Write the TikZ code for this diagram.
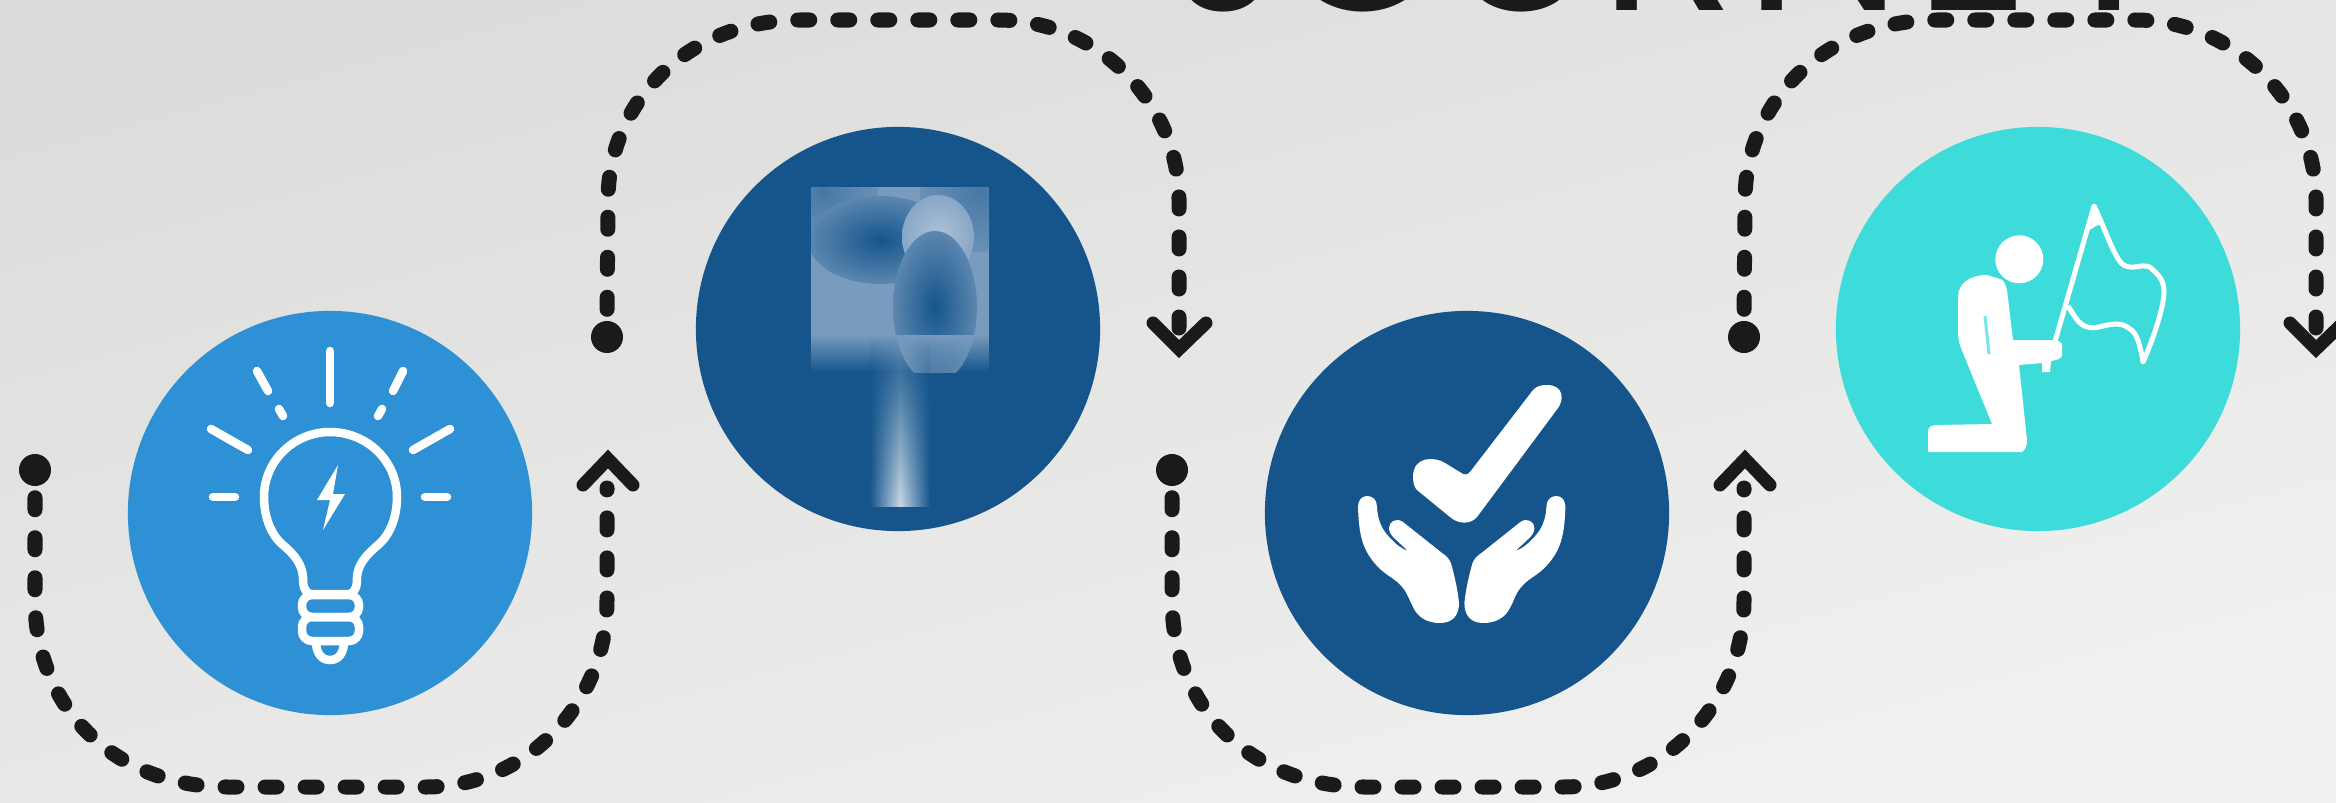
\documentclass[tikz,border=0pt]{standalone}
\usepackage{fontspec}
\newfontfamily\titlefont{Poppins}
\usepackage{xcolor}
\usetikzlibrary{fadings,positioning,calc}
\definecolor{bgtop}{HTML}{DCDCDA}
\definecolor{bgbot}{HTML}{F1F1EF}
\definecolor{ink}{HTML}{1A1A1A}
\definecolor{lampblue}{HTML}{2E91D6}
\definecolor{navy}{HTML}{15558C}
\definecolor{teal}{HTML}{3DDBD9}
\definecolor{patch}{HTML}{789BBE}
\colorlet{patchmid}{patch!50!navy}
\colorlet{patchpale}{patch!60!white}
\pgfdeclareradialshading{blobdark}{\pgfpoint{0bp}{0bp}}{color(0bp)=(navy); color(35bp)=(patch); color(50bp)=(patch)}
\pgfdeclareradialshading{blobmid}{\pgfpoint{0bp}{0bp}}{color(0bp)=(patchmid); color(35bp)=(patch); color(50bp)=(patch)}
\pgfdeclareradialshading{blobpale}{\pgfpoint{0bp}{0bp}}{color(0bp)=(patchpale); color(35bp)=(patch); color(50bp)=(patch)}
\tikzfading[name=shaftfade,top color=transparent!100,middle color=transparent!0,bottom color=transparent!0]

\begin{document}
\begin{tikzpicture}[x=0.01cm,y=-0.01cm,
   disc/.style={circle,minimum size=4.04cm,inner sep=0pt},
   dot/.style={circle,fill=ink,minimum size=0.32cm,inner sep=0pt},
   trail/.style={ink,line width=0.15cm,line cap=round,dash pattern=on 0.12cm off 0.28cm,dash phase=0.29cm},
   chev/.style={ink,line width=0.13cm,line cap=round,miter limit=10},
   ray/.style={white,line width=0.085cm,line cap=round}]
  \useasboundingbox (0,0) rectangle (2336,803);
  \clip (0,0) rectangle (2336,803);
  \shade[shading=axis,top color=bgtop,bottom color=bgbot,shading angle=15] (0,0) rectangle (2336,803);
  \node[anchor=base west,inner sep=0pt,ink,font=\fontsize{64}{66}\selectfont\titlefont] (title) at (1170,10.7)
    {J\kern-0.16cm O\kern-0.06cm U\kern0.03cm R\kern0.08cm N\kern0.12cm E\kern0.13cm Y};

  \node[disc,fill=lampblue] (lamp) at (330,513) {};
  \node[disc,fill=navy] (sign) at (898,329) {};
  \node[disc,fill=navy] (hands) at (1467,513) {};
  \node[disc,fill=teal] (flag) at (2038,329) {};

  % dotted trails
  \foreach \dx/\k in {0/a,1137/b}{
  \begin{scope}[shift={(\dx,0)}]
    \node[dot] (low\k) at (35,470) {};
    \coordinate (lowstop\k) at (607,488);
    \coordinate (lowend\k) at (608,459);
    \draw[trail] (low\k.south) -- (35,600) .. controls (35,705) and (112,787) .. (228,787)
      -- (426,787) .. controls (525,787) and (607,705) .. (607,600) -- (lowstop\k);
    \draw[chev] (583,485) -- (lowend\k) -- (633,485);
    \node[dot] (up\k) at (607,337) {};
    \coordinate (upstop\k) at (1179,328);
    \coordinate (upend\k) at (1179,349);
    \draw[trail] (up\k.north) -- (608,200) .. controls (608,105) and (685,20) .. (800,20)
      -- (998,20) .. controls (1100,20) and (1179,105) .. (1179,200) -- (upstop\k);
    \draw[chev] (1153,323) -- (upend\k) -- (1206,323);
  \end{scope}}

  % bulb
  \foreach \a/\b/\c/\d in {330/351/330/403,257/371/268/391,279/409/283/416,403/371/393/391,382/409/378/416,
      211/429/248/450,450/429/413/450,213/497/235/497,425/497/447/497}
    \draw[ray] (\a,\b) -- (\c,\d);
  \draw[ray] (310,594) .. controls (303,590) and (303,585) .. (303,577) .. controls (302,565) and (296,556) .. (283,545)
    .. controls (271,535) and (264,517) .. (264,497) .. controls (264,460) and (295,432) .. (330,432)
    .. controls (366,432) and (397,460) .. (397,497) .. controls (397,517) and (390,535) .. (378,545)
    .. controls (365,556) and (358,565) .. (357,577) .. controls (357,585) and (357,590) .. (350,594) -- cycle;
  \draw[ray,rounded corners=0.1cm] (302,595) rectangle (359,617);
  \draw[ray,rounded corners=0.1cm] (302,617) rectangle (359,641);
  \draw[ray] (316,641) .. controls (316,654) and (322,660) .. (330,660) .. controls (338,660) and (344,654) .. (344,641);
  \fill[white] (338,465) -- (317,500) -- (330,500) -- (323,530) -- (345,494) -- (333,494) -- cycle;

  % blurred sign
  \begin{scope}
    \clip (811,187) rectangle (989,372);
    \fill[patch] (811,187) rectangle (989,335);
    \shade[shading=blobmid] (823,190) ellipse [x radius=55,y radius=55];
    \shade[shading=blobmid] (980,192) ellipse [x radius=60,y radius=60];
    \shade[shading=blobdark] (880,240) ellipse [x radius=72,y radius=44];
    \shade[shading=blobpale] (938,237) ellipse [x radius=36,y radius=42];
    \shade[shading=blobdark] (935,307) ellipse [x radius=42,y radius=76];
    \fill[patch,path fading=south] (811,335) rectangle (989,372);
  \end{scope}
  \shade[left color=navy,right color=navy,middle color=patch!40!white,path fading=shaftfade] (870,335) rectangle (930,506);

  % check and hands
  \fill[white] (1533,390) -- (1470,472) .. controls (1467,475) and (1465,475) .. (1463,474) -- (1445,463)
    .. controls (1436,457) and (1413,455) .. (1413,477) .. controls (1413,484) and (1415,488) .. (1417,490) -- (1450,517)
    .. controls (1458,524) and (1470,525) .. (1477,517) -- (1558,408) .. controls (1564,400) and (1564,385) .. (1547,385)
    .. controls (1541,385) and (1537,386) .. (1533,390) -- cycle;
  \foreach \t/\m in {0/1,2923.4/-1}
    \fill[white,shift={(\t,0)},xscale=\m] (1367,496) .. controls (1361,496) and (1358,501) .. (1358,507)
      .. controls (1359,535) and (1362,550) .. (1378,567) .. controls (1388,577) and (1395,578) .. (1403,588)
      .. controls (1408,594) and (1410,602) .. (1413,607) .. controls (1418,618) and (1428,623) .. (1440,623)
      .. controls (1453,623) and (1459,615) .. (1459,603) .. controls (1458,592) and (1455,578) .. (1452,567)
      .. controls (1450,558) and (1446,556) .. (1442,553) -- (1403,522) .. controls (1396,517) and (1389,522) .. (1389,528)
      .. controls (1389,532) and (1391,535) .. (1393,537) -- (1408,551) .. controls (1400,548) and (1396,544) .. (1392,540)
      .. controls (1385,533) and (1378,525) .. (1377,507) .. controls (1377,500) and (1373,496) .. (1367,496) -- cycle;

  % kneeling figure
  \fill[white] (2019.3,259.3) circle [radius=24];
  \fill[white] (1987,275) .. controls (1970,275) and (1958,283) .. (1958,297) -- (1958,333) .. controls (1958,340) and (1960,346) .. (1963,353)
    -- (1992,424) -- (1937,425) .. controls (1931,425) and (1928,427) .. (1928,432) -- (1928,452) -- (2022,452)
    .. controls (2026,449) and (2027,445) .. (2027,440) -- (2019,365) -- (2042,363) -- (2042,372) -- (2050,372) -- (2051,361)
    .. controls (2058,360) and (2062,358) .. (2062,355) -- (2062,344) .. controls (2060,341) and (2057,340) .. (2053,340)
    -- (2013,340) -- (2007,290) .. controls (2005,283) and (2003,279) .. (2000,279) -- cycle;
  \draw[teal!70!white,line width=0.03cm] (1985,316) -- (1989,354);
  \draw[white,line width=0.05cm,line join=round] (2054,345) -- (2094,206) .. controls (2102,222) and (2110,245) .. (2117,257)
    .. controls (2120,262) and (2122,266) .. (2130,267) .. controls (2140,268) and (2146,262) .. (2153,270)
    .. controls (2160,276) and (2164,282) .. (2164,292) .. controls (2164,305) and (2155,335) .. (2143,362)
    .. controls (2140,345) and (2137,333) .. (2130,329) .. controls (2122,322) and (2113,324) .. (2103,326)
    .. controls (2092,329) and (2083,329) .. (2075,317) -- (2068,306);
  \fill[white] (2094,206) -- (2086,232) -- (2096,226) -- (2101,224) -- cycle;
\end{tikzpicture}
\end{document}
